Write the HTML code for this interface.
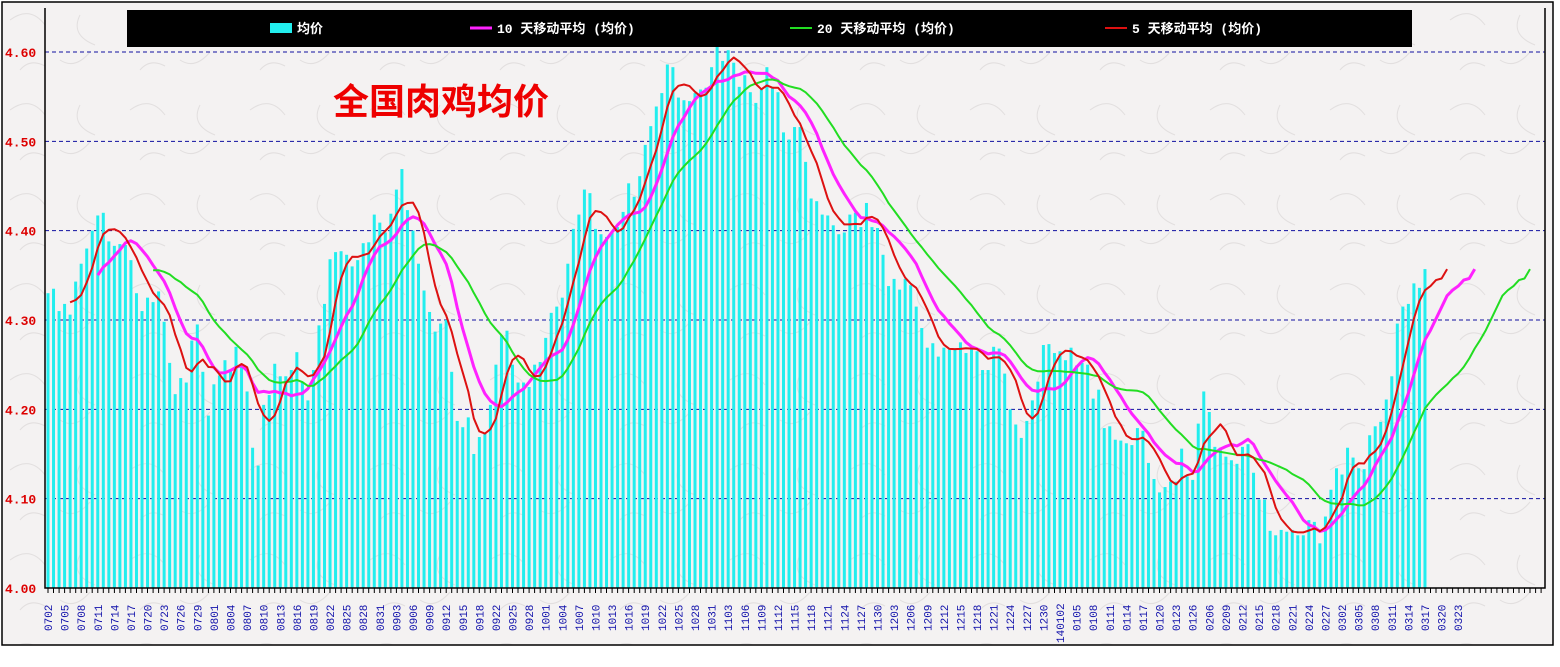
<!DOCTYPE html>
<html><head><meta charset="utf-8"><style>
body{margin:0;background:#fff;}
svg{display:block;font-family:"Liberation Sans","Noto Sans CJK SC",sans-serif;}
</style></head><body>
<svg id="c" width="1560" height="667">
<defs><pattern id="tex" width="120" height="90" patternUnits="userSpaceOnUse">
<rect width="120" height="90" fill="#f4f2f2"/>
<path d="M10 20 q20 -15 35 5 M60 60 q15 10 30 -8 M80 15 q-10 20 15 30 M20 70 q10 -12 25 -4" stroke="#e2dfdf" fill="none" stroke-width="1"/>
</pattern></defs>
<rect x="2" y="2" width="1551" height="643" fill="url(#tex)" stroke="#000" stroke-width="1.5"/>
<g id="grid"></g><g id="bars"></g><g id="lines"></g><g id="axes"></g>
<rect x="127" y="10" width="1285" height="37" fill="#000"/>
<g><rect x="270" y="23" width="22" height="10" fill="#22eeee"/><text x="297" y="33" fill="#fff" font-size="13" font-weight="bold">均价</text></g>
<g><line x1="470" y1="28" x2="492" y2="28" stroke="#ff22ff" stroke-width="3"/><text x="497" y="33" fill="#fff" font-size="13" font-weight="bold" font-family="Liberation Mono, Noto Sans CJK SC, monospace">10 天移动平均 (均价)</text></g>
<g><line x1="790" y1="28" x2="812" y2="28" stroke="#22dd22" stroke-width="2"/><text x="817" y="33" fill="#fff" font-size="13" font-weight="bold" font-family="Liberation Mono, Noto Sans CJK SC, monospace">20 天移动平均 (均价)</text></g>
<g><line x1="1105" y1="28" x2="1127" y2="28" stroke="#dd1111" stroke-width="2"/><text x="1132" y="33" fill="#fff" font-size="13" font-weight="bold" font-family="Liberation Mono, Noto Sans CJK SC, monospace">5 天移动平均 (均价)</text></g>
<text x="333" y="114" fill="#ee0000" font-size="36" font-weight="bold">全国肉鸡均价</text>
</svg>
<script>
const prices=[4.33,4.335,4.31,4.318,4.306,4.343,4.363,4.38,4.40,4.417,4.42,4.388,4.383,4.385,4.384,4.367,4.33,4.31,4.325,4.32,4.332,4.298,4.252,4.217,4.235,4.23,4.277,4.295,4.242,4.193,4.228,4.238,4.255,4.243,4.27,4.248,4.22,4.157,4.137,
4.205,4.216,4.251,4.237,4.237,4.244,4.264,4.23,4.21,4.244,4.294,4.318,4.368,4.376,4.377,4.373,4.36,4.367,4.386,4.387,4.418,4.409,4.398,4.419,4.446,4.469,4.423,4.40,4.363,4.333,4.309,4.287,4.296,4.30,4.242,4.187,4.18,4.191,4.15,4.169,4.174,4.205,4.25,
4.283,4.288,4.25,4.23,4.23,4.225,4.25,4.253,4.28,4.308,4.315,4.325,4.363,4.402,4.418,4.446,4.442,4.402,4.396,4.393,4.399,4.404,4.421,4.453,4.438,4.461,4.496,4.517,4.539,4.554,4.586,4.583,4.549,4.546,4.545,4.554,4.558,4.56,4.583,4.606,4.59,4.602,4.588,4.561,4.574,
4.555,4.543,4.558,4.583,4.561,4.555,4.51,4.502,4.516,4.516,4.477,4.436,4.433,4.418,4.417,4.406,4.396,4.398,4.418,4.42,4.404,4.431,4.404,4.403,4.373,4.338,4.346,4.334,4.346,4.339,4.315,4.291,4.269,4.274,4.259,4.269,4.267,4.268,4.275,4.263,4.267,4.265,4.244,4.244,4.27,
4.268,4.24,4.20,4.183,4.168,4.187,4.21,4.231,4.272,4.273,4.263,4.265,4.255,4.269,4.249,4.252,4.25,4.212,4.222,4.179,4.181,4.166,4.165,4.162,4.16,4.179,4.176,4.14,4.122,4.107,4.113,4.119,4.119,4.156,4.125,4.121,4.184,4.22,4.197,4.158,4.157,4.147,4.143,4.139,4.158,4.161,4.129,4.099,4.099,4.064,4.059,4.065,4.063,4.065,4.059,4.059,4.076,
4.074,4.05,4.08,4.11,4.134,4.127,4.157,4.146,4.134,4.133,4.171,4.181,4.186,4.211,4.237,4.296,4.315,4.318,4.341,4.336,4.357];
const dateLabels=["0702","0705","0708","0711","0714","0717","0720","0723","0726","0729","0801","0804","0807","0810","0813","0816","0819","0822","0825","0828","0831","0903","0906","0909","0912","0915","0918","0922","0925","0928","1001","1004","1007","1010","1013","1016","1019","1022","1025","1028","1031","1103","1106","1109","1112","1115","1118","1121","1124","1127","1130","1203","1206","1209","1212","1215","1218","1221","1224","1227","1230","140102","0105","0108","0111","0114","0117","0120","0123","0126","0206","0209","0212","0215","0218","0221","0224","0227","0302","0305","0308","0311","0314","0317","0320","0323"];
const yTicks=[4.00,4.10,4.20,4.30,4.40,4.50,4.60];
const maPeriods=[10,20,5];
const NS="http://www.w3.org/2000/svg";
const L=45,R=1545,B=588,T=8,X0=48,STEP=5.53,SLOTS=271;
const yS=v=>B-(v-4.0)/0.6*(B-52);
const xS=i=>X0+i*STEP;
function mk(t,a,p){const e=document.createElementNS(NS,t);for(const k in a)e.setAttribute(k,a[k]);document.getElementById(p).appendChild(e);return e;}
yTicks.forEach(v=>{
  if(v>4.0){const g=mk('line',{x1:L,x2:R,y1:yS(v),y2:yS(v),stroke:'#1010a0','stroke-dasharray':'4,3','stroke-width':1},'grid');
  
  }
  const t=mk('text',{x:5,y:yS(v)+5,fill:'#dd0000','font-size':13,'font-weight':'bold','font-family':'Liberation Mono, monospace'},'axes');
  t.textContent=v.toFixed(2);
  
  
});
prices.forEach((v,i)=>{
  const r=mk('rect',{x:xS(i)-1.5,y:yS(v),width:3,height:B-yS(v),fill:'#22eeee'},'bars');
  
  
});
const colors={10:['#ff22ff',3],20:['#22dd22',2],5:['#dd1111',2]};
maPeriods.forEach(n=>{
  const N=prices.length;let pts=[];
  for(let i=n-1;i<N+n-1;i++){
    const a=Math.max(0,i-n+1),b=Math.min(i,N-1);let s=0;
    for(let j=a;j<=b;j++)s+=prices[j];
    pts.push(xS(i).toFixed(1)+','+yS(s/(b-a+1)).toFixed(1));
  }
  const p=mk('polyline',{points:pts.join(' '),fill:'none',stroke:colors[n][0],'stroke-width':colors[n][1],'stroke-linejoin':'round'},'lines');
  
  
});
const ax=mk('path',{d:`M${L} ${T} V${B} H${R} V${T}`,fill:'none',stroke:'#000','stroke-width':1.5},'axes');


let d='';for(let i=0;i<SLOTS;i++){d+=`M${xS(i).toFixed(1)} ${B} v5 `;}
const tk=mk('path',{d:d,stroke:'#000','stroke-width':1},'axes');


dateLabels.forEach((s,k)=>{
  const x=xS(k*3)+4;
  const t=mk('text',{x:x,y:631,fill:'#1010aa','font-size':11,'font-family':'Liberation Mono, monospace',transform:`rotate(-90 ${x} 631)`},'axes');
  if(s.length>4)t.setAttribute('transform',`rotate(-90 ${x} 643)`),t.setAttribute('y',643);
  t.textContent=s;
  
  
});
</script>
</body></html>
